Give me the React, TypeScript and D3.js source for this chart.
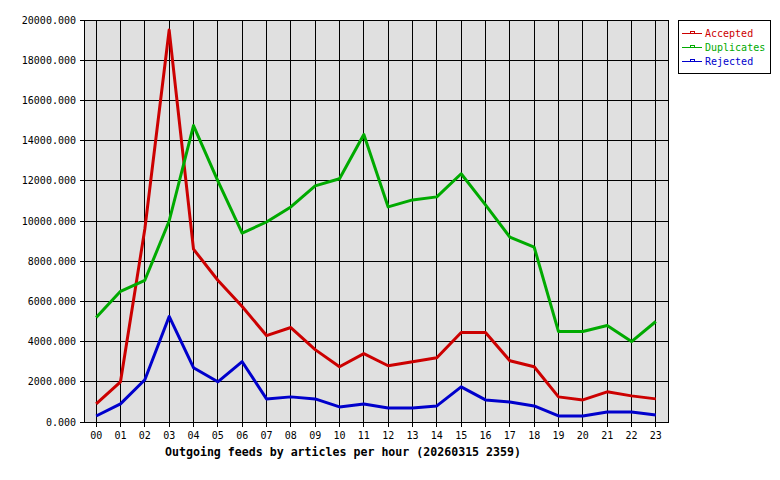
import React from 'react';
import * as d3 from 'd3';

// hours on the x axis
const hours = ['00', '01', '02', '03', '04', '05', '06', '07', '08', '09', '10', '11',
  '12', '13', '14', '15', '16', '17', '18', '19', '20', '21', '22', '23'];

const accepted = [900, 2000, 9600, 19500, 8600, 7050, 5750, 4300, 4700, 3600, 2750, 3400,
  2800, 3000, 3200, 4450, 4450, 3050, 2750, 1250, 1100, 1500, 1300, 1150];
const duplicates = [5200, 6500, 7050, 10000, 14750, 12000, 9400, 9950, 10700, 11750, 12100, 14300,
  10700, 11050, 11200, 12350, 10800, 9200, 8700, 4500, 4500, 4800, 4000, 5000];
const rejected = [300, 900, 2100, 5250, 2700, 2000, 3000, 1150, 1250, 1150, 750, 900,
  700, 700, 800, 1750, 1100, 1000, 800, 300, 300, 500, 500, 350];

const yTicks = [0, 2000, 4000, 6000, 8000, 10000, 12000, 14000, 16000, 18000, 20000];

const seriesNames = ['Accepted', 'Duplicates', 'Rejected'];
const seriesColors = ['#cc0000', '#00aa00', '#0000cc'];

const title = 'Outgoing feeds by articles per hour (20260315 2359)';
const font = '"DejaVu Sans Mono", monospace';

export default function App() {
  const width = 780;
  const height = 480;
  const plot = { left: 84, right: 668, top: 20, bottom: 422 };

  const x = d3.scaleBand<string>()
    .domain(hours)
    .range([plot.left, plot.right]);
  const xc = (h: string) => (x(h) ?? 0) + x.bandwidth() / 2;

  const y = d3.scaleLinear()
    .domain([0, 20000])
    .range([plot.bottom, plot.top]);

  const line = d3.line<number>()
    .x((d, i) => xc(hours[i]))
    .y(d => y(d));

  const allSeries = [accepted, duplicates, rejected];

  return (
    <svg width={width} height={height} style={{ position: 'absolute', left: 0, top: 0, background: '#fff' }}
      fontFamily={font}>
      {/* plot background */}
      <rect x={plot.left} y={plot.top} width={plot.right - plot.left} height={plot.bottom - plot.top}
        fill="#e0e0e0" />

      {/* grid */}
      <g stroke="#000" strokeWidth={1} shapeRendering="crispEdges">
        {yTicks.map(t => (
          <line key={'gy' + t} x1={plot.left - 4} x2={plot.right} y1={y(t)} y2={y(t)} />
        ))}
        {hours.map(h => (
          <line key={'gx' + h} x1={xc(h)} x2={xc(h)} y1={plot.top} y2={plot.bottom + 5} />
        ))}
        <rect x={plot.left} y={plot.top} width={plot.right - plot.left} height={plot.bottom - plot.top}
          fill="none" />
      </g>

      {/* y labels */}
      <g fontSize={10} textAnchor="end" fill="#000">
        {yTicks.map(t => (
          <text key={'ly' + t} x={76} y={y(t) + 3.5}>{t.toFixed(3)}</text>
        ))}
      </g>

      {/* x labels */}
      <g fontSize={10} textAnchor="middle" fill="#000">
        {hours.map(h => (
          <text key={'lx' + h} x={xc(h)} y={439}>{h}</text>
        ))}
      </g>

      <text x={343} y={456} fontSize={11.6} fontWeight="bold" textAnchor="middle">{title}</text>

      {/* series */}
      {allSeries.map((s, i) => (
        <path key={seriesNames[i]} d={line(s) ?? ''} fill="none" stroke={seriesColors[i]}
          strokeWidth={3} strokeLinejoin="round" />
      ))}

      {/* legend */}
      <rect x={678.5} y={20.5} width={92} height={53} fill="#fff" stroke="#000" shapeRendering="crispEdges" />
      {seriesNames.map((n, i) => {
        const ly = 33 + i * 14.3;
        return (
          <g key={'lg' + n}>
            <line x1={682} x2={702} y1={ly} y2={ly} stroke={seriesColors[i]} strokeWidth={1} shapeRendering="crispEdges" />
            <rect x={690.5} y={ly - 2} width={4} height={2} fill="#fff" stroke={seriesColors[i]} shapeRendering="crispEdges" />
            <text x={705} y={ly + 3.5} fontSize={10} fill={seriesColors[i]}>{n}</text>
          </g>
        );
      })}
    </svg>
  );
}
